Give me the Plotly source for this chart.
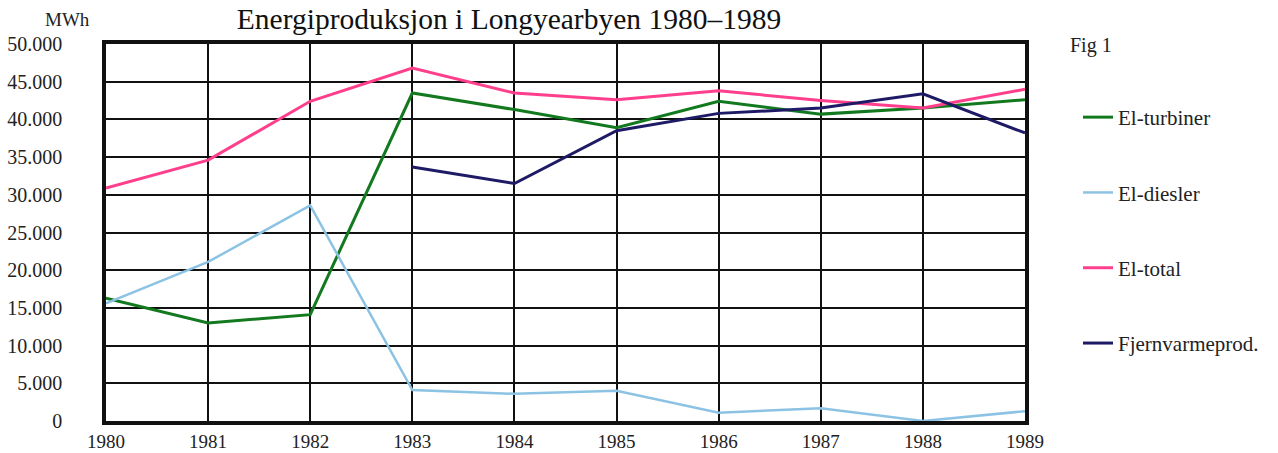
import plotly.graph_objects as go

years = [1980, 1981, 1982, 1983, 1984, 1985, 1986, 1987, 1988, 1989]
el_turbiner = [16300, 13000, 14100, 43500, 41300, 38900, 42400, 40700, 41500, 42600]
el_diesler = [15600, 21100, 28600, 4100, 3600, 4000, 1100, 1700, 0, 1300]
el_total = [30900, 34600, 42400, 46800, 43500, 42600, 43800, 42500, 41500, 44000]
fjern_years = [1983, 1984, 1985, 1986, 1987, 1988, 1989]
fjernvarme = [33700, 31500, 38500, 40800, 41500, 43400, 38200]

series = [
    ("El-turbiner", years, el_turbiner, "#13791f", 3),
    ("El-diesler", years, el_diesler, "#8cc3e4", 2.5),
    ("El-total", years, el_total, "#ff3f8c", 3),
    ("Fjernvarmeprod.", fjern_years, fjernvarme, "#1e1a66", 3),
]

serif = "Liberation Serif, Times New Roman, serif"

fig = go.Figure()
for i, (name, xs, ys, color, w) in enumerate(series):
    fig.add_trace(go.Scatter(
        x=xs, y=ys, name=name, mode="lines",
        line=dict(color=color, width=w),
        legendgroup=f"g{i}",
    ))

fig.update_layout(
    width=1278, height=453,
    margin=dict(l=106, r=253, t=44, b=32, autoexpand=False),
    paper_bgcolor="white", plot_bgcolor="white",
    separators=",.",
    font=dict(family=serif, color="#222222", size=19),
    title=dict(text="Energiproduksjon i Longyearbyen 1980–1989",
               x=509 / 1278, xanchor="center", y=1 - 19 / 453, yanchor="middle",
               font=dict(family=serif, size=29.5, color="#111111")),
    showlegend=True,
    legend=dict(x=(1078 - 106) / 919, xanchor="left", y=(421 - 97) / 377, yanchor="top",
                tracegroupgap=45,
                font=dict(family=serif, size=21, color="#222222"),
                bgcolor="rgba(0,0,0,0)"),
    xaxis=dict(range=[1980, 1989], tickmode="array", tickvals=years,
               ticktext=[str(y) for y in years],
               showgrid=True, gridcolor="#111111", gridwidth=1.5,
               showline=True, linecolor="#111111", linewidth=3.5, mirror=True,
               ticks="", ticklabelstandoff=0, automargin=False,
               tickfont=dict(family=serif, size=19, color="#222222"),
               zeroline=False),
    yaxis=dict(range=[0, 50000], tickvals=list(range(0, 50001, 5000)),
               tickformat=",d",
               showgrid=True, gridcolor="#111111", gridwidth=1.5,
               showline=True, linecolor="#111111", linewidth=3.5, mirror=True,
               ticks="", ticklabelstandoff=36, automargin=False,
               tickfont=dict(family=serif, size=20, color="#222222"),
               zeroline=False),
)

fig.add_annotation(text="MWh", xref="paper", yref="paper",
                   x=(67 - 106) / 919, y=(421 - 19) / 377, xanchor="center", yanchor="middle",
                   showarrow=False, font=dict(family=serif, size=19, color="#222222"))
fig.add_annotation(text="Fig 1", xref="paper", yref="paper",
                   x=(1068 - 106) / 919, y=(421 - 46) / 377, xanchor="left", yanchor="middle",
                   showarrow=False, font=dict(family=serif, size=20, color="#222222"))

fig.write_html("out.html", config={"displayModeBar": False},
               post_script="document.body.style.margin='0';document.body.style.overflow='hidden';")
